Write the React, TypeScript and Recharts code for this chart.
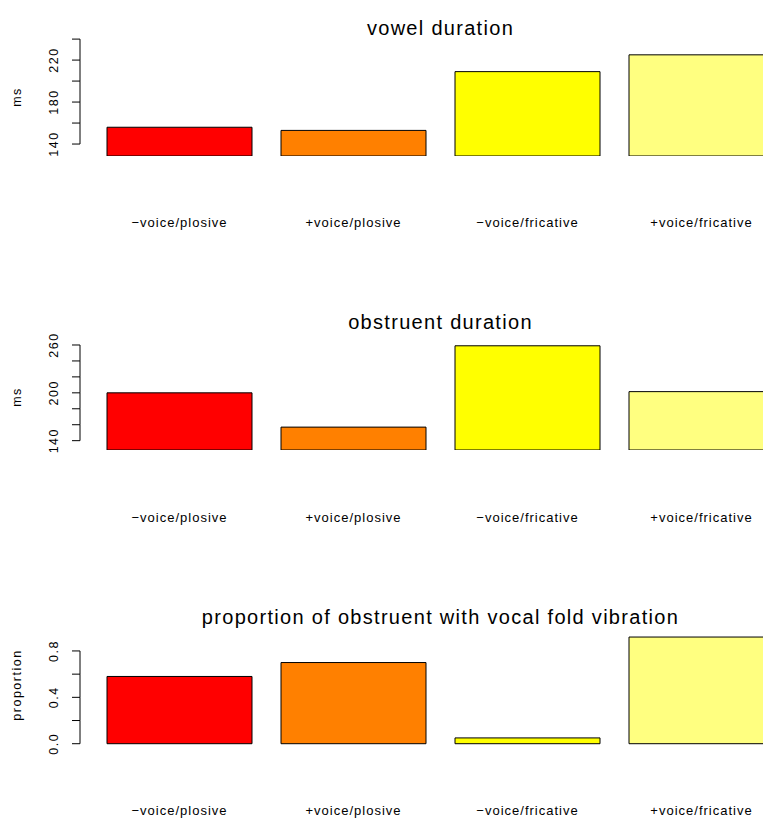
import { BarChart, Bar, XAxis, YAxis, Cell } from 'recharts';

const categories = ['−voice/plosive', '+voice/plosive', '−voice/fricative', '+voice/fricative'];

const vowelDuration = [156, 153, 209, 225];
const obstruentDuration = [200, 157, 259, 201.5];
const voicedProportion = [0.58, 0.7, 0.05, 0.92];

const vowelTicks = [140, 160, 180, 200, 220, 240];
const vowelTickLabels = ['140', '', '180', '', '220', ''];
const obstruentTicks = [140, 160, 180, 200, 220, 240, 260];
const obstruentTickLabels = ['140', '', '', '200', '', '', '260'];
const proportionTicks = [0, 0.2, 0.4, 0.6, 0.8];
const proportionTickLabels = ['0.0', '', '0.4', '', '0.8'];

const COLORS = ['#FF0000', '#FF8000', '#FFFF00', '#FFFF80'];

const FONT = '"Liberation Sans", Arial, Helvetica, sans-serif';
const CHART_W = 810;
const AXIS_W = 80;
const RIGHT = 9;
const X_AXIS_H = 90;

type PanelProps = {
  title: string;
  yLabel: string;
  values: number[];
  ticks: number[];
  tickLabels: string[];
  domain: [number, number];
  top: number;
  plotTop: number;
  plotBottom: number;
  titleY: number;
  yLabelY: number;
  labelY: number;
};

function Panel({ title, yLabel, values, ticks, tickLabels, domain, top, plotTop, plotBottom, titleY, yLabelY, labelY }: PanelProps) {
  const data = categories.map((name, i) => ({ name, value: values[i] }));
  const height = plotBottom - top + X_AXIS_H;
  const pxPerUnit = (plotBottom - plotTop) / (domain[1] - domain[0]);

  // R-style axis: line only between first and last tick, labels rotated
  const YTick = (props: any) => {
    const { y, payload } = props;
    const i = ticks.findIndex((t) => Math.abs(t - payload.value) < 1e-9);
    const label = tickLabels[i];
    const next = ticks[i + 1];
    return (
      <g>
        <line x1={AXIS_W - 8} x2={AXIS_W} y1={y} y2={y} stroke="#000" strokeWidth={1} />
        {next !== undefined && (
          <line x1={AXIS_W} x2={AXIS_W} y1={y} y2={y - (next - ticks[i]) * pxPerUnit} stroke="#000" strokeWidth={1} />
        )}
        {label && (
          <text x={54} y={y} transform={`rotate(-90 54 ${y})`} textAnchor="middle" dominantBaseline="central"
            fontSize={12.5} letterSpacing={1.5} fontFamily={FONT} fill="#000">
            {label}
          </text>
        )}
      </g>
    );
  };

  const XTick = (props: any) => (
    <text x={props.x} y={labelY - top} textAnchor="middle" dominantBaseline="central" fontSize={13}
      letterSpacing={1} fontFamily={FONT} fill="#000">
      {props.payload.value}
    </text>
  );

  return (
    <div style={{ position: 'absolute', left: 0, top, width: CHART_W, height }}>
      <div style={{ position: 'absolute', left: AXIS_W, width: CHART_W - AXIS_W - RIGHT, top: titleY - top - 14,
        height: 28, lineHeight: '28px', textAlign: 'center', fontSize: 20, letterSpacing: 1.3 }}>
        {title}
      </div>
      <div style={{ position: 'absolute', left: 17, top: yLabelY - top, transform: 'translate(-50%, -50%) rotate(-90deg)',
        fontSize: 12.5, letterSpacing: 1.5, whiteSpace: 'nowrap' }}>
        {yLabel}
      </div>
      <BarChart width={CHART_W} height={height} data={data} barCategoryGap={14.5}
        margin={{ top: plotTop - top, right: RIGHT, left: 0, bottom: 0 }}>
        <XAxis dataKey="name" height={X_AXIS_H} axisLine={false} tickLine={false} interval={0}
          padding={{ left: 12.5, right: 12.5 }} tick={<XTick />} />
        <YAxis width={AXIS_W} domain={domain} allowDataOverflow ticks={ticks} interval={0}
          axisLine={false} tickLine={false} tick={<YTick />} />
        <Bar dataKey="value" stroke="#000" strokeWidth={1} isAnimationActive={false}>
          {data.map((_, i) => (
            <Cell key={`cell-${i}`} fill={COLORS[i % COLORS.length]} />
          ))}
        </Bar>
      </BarChart>
    </div>
  );
}

export default function App() {
  return (
    <div style={{ position: 'fixed', left: 0, top: 0, width: 763, height: 818, overflow: 'hidden',
      background: '#fff', fontFamily: FONT, color: '#000' }}>
      <Panel title="vowel duration" yLabel="ms" values={vowelDuration} ticks={vowelTicks}
        tickLabels={vowelTickLabels} domain={[128.6, 242]} top={0} plotTop={37} plotBottom={156}
        titleY={28} yLabelY={97} labelY={222} />
      <Panel title="obstruent duration" yLabel="ms" values={obstruentDuration} ticks={obstruentTicks}
        tickLabels={obstruentTickLabels} domain={[128.3, 262]} top={290} plotTop={343.4} plotBottom={450}
        titleY={322} yLabelY={397} labelY={517} />
      <Panel title="proportion of obstruent with vocal fold vibration" yLabel="proportion" values={voicedProportion}
        ticks={proportionTicks} tickLabels={proportionTickLabels} domain={[-0.037, 0.96]} top={580}
        plotTop={632.4} plotBottom={748} titleY={617} yLabelY={685} labelY={810} />
    </div>
  );
}
